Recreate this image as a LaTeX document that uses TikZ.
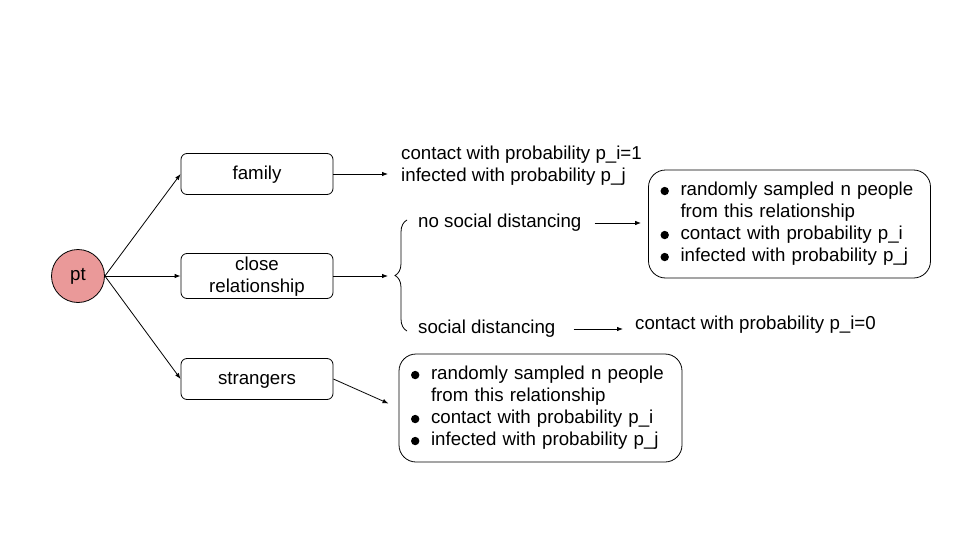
\documentclass[tikz,border=0pt]{standalone}
\usepackage{fontspec}
\setmainfont{Liberation Sans}
\usetikzlibrary{arrows.meta,decorations.pathreplacing}
\definecolor{ptred}{HTML}{EA9999}
\newcommand\bul{\tikz[baseline=-4.8pt]\fill (0,0) circle (4.2pt);}
\newcommand\bitem[1]{\makebox[20pt][l]{\bul}#1}
\begin{document}
\begin{tikzpicture}[x=1pt,y=-1pt,
  txt/.style={font=\fontsize{18.7}{22}\selectfont},
  box/.style={txt,draw,line width=0.8pt,rounded corners=6pt,minimum width=152pt,minimum height=41pt,inner sep=0pt,align=center,text depth=2pt},
  bigbox/.style={txt,draw,line width=0.8pt,rounded corners=17pt,inner xsep=12pt,inner ysep=0pt,minimum height=108pt,align=left},
  plain/.style={txt,inner sep=0pt,align=left,anchor=west},
  arr/.style={-{Latex[length=6pt,width=4.5pt]},line width=0.8pt}]
\useasboundingbox (0,0) rectangle (960,540);

\node[circle,draw,line width=0.8pt,fill=ptred,minimum size=53pt,inner sep=0pt,txt] (pt) at (78,276) {pt};
\node[box] (family) at (257,174) {family};
\node[box,minimum height=45pt] (close) at (257,276) {close\\relationship};
\node[box] (strangers) at (257,379) {strangers};

\node[plain] (famtxt) at (401,166) {contact with probability p\_i=1\\infected with probability p\_j};
\node[plain] (nosd) at (418,223) {no social distancing};
\node[plain] (sd) at (418,329) {social distancing};
\node[plain] (pi0) at (635,325) {contact with probability p\_i=0};

\node[bigbox,text width=258pt] (rbox) at (789.5,224) {\bitem{randomly sampled n people}\\\hspace*{20pt}from this relationship\\\bitem{contact with probability p\_i}\\\bitem{infected with probability p\_j}};
\node[bigbox,text width=259pt] (bbox) at (540.5,408) {\bitem{randomly sampled n people}\\\hspace*{20pt}from this relationship\\\bitem{contact with probability p\_i}\\\bitem{infected with probability p\_j}};

\coordinate (brin) at (388,276);
\draw[line width=0.8pt,decorate,decoration={brace,amplitude=12pt}] (407,331) -- (407,220);

\draw[arr] (pt.east) -- (family.west);
\draw[arr] (pt.east) -- (close.west);
\draw[arr] (pt.east) -- (strangers.west);
\draw[arr,shorten >=13pt] (family.east) -- (family.east -| famtxt.west);
\draw[arr] (close.east) -- (brin);
\draw[arr,shorten <=13pt,shorten >=7pt] (nosd.east) -- (nosd.east -| rbox.west);
\draw[arr,shorten <=18pt,shorten >=12pt] (sd.east) -- (sd.east -| pi0.west);
\draw[arr,shorten >=11pt] (strangers.east) -- (bbox.west);
\end{tikzpicture}
\end{document}
